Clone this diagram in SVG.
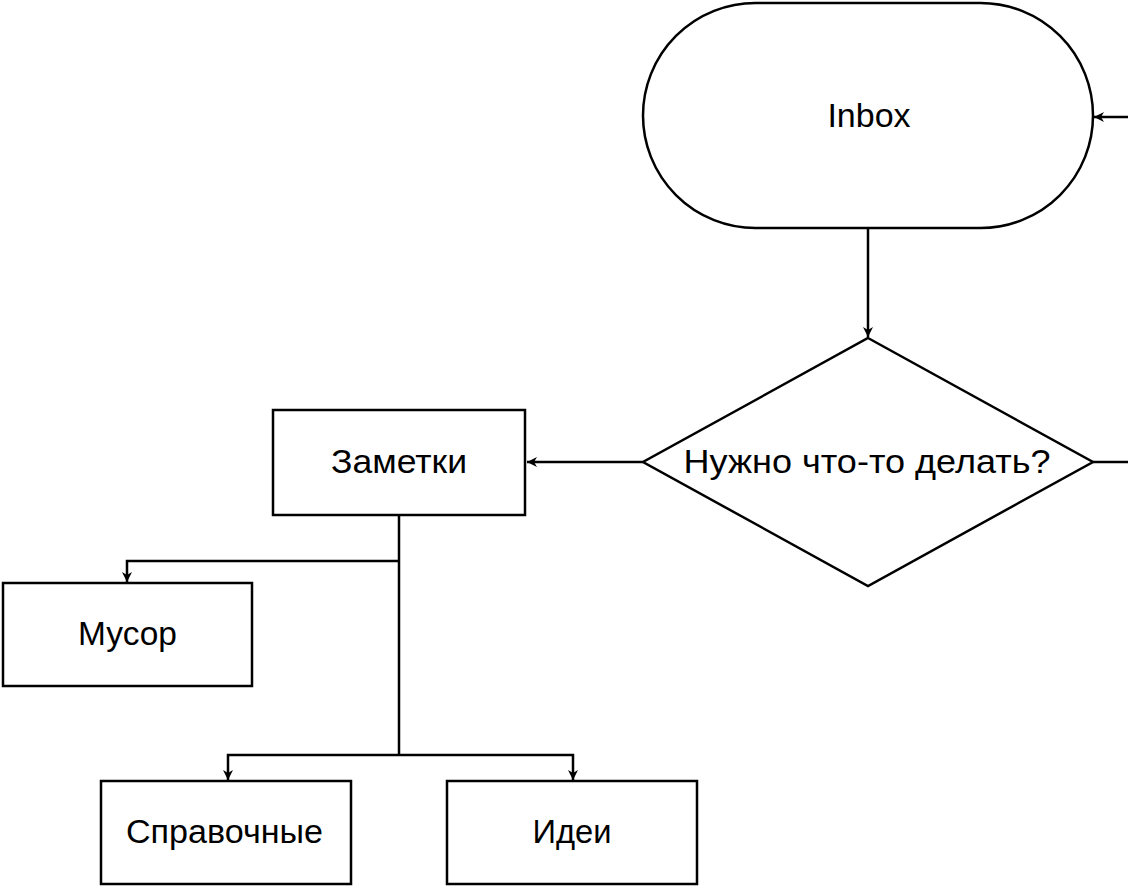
<svg xmlns="http://www.w3.org/2000/svg" width="1128" height="886" viewBox="0 0 1128 886">
<defs>
<style>
.s{fill:#fff;stroke:#000;stroke-width:2.5}
.t{font-family:"Liberation Sans",Arial,sans-serif;font-size:34px;fill:#000;text-anchor:middle;dominant-baseline:central}
.c{fill:none;stroke:#000;stroke-width:2.5}
</style>
<marker id="a" viewBox="0 0 10 10" refX="10" refY="5" markerWidth="4" markerHeight="4" orient="auto" markerUnits="strokeWidth">
<path d="M0,0 L10,5 L0,10 L3,5 Z" fill="#000"/>
</marker>
</defs>
<rect width="1128" height="886" fill="#fff"/>
<g id="connectors">
<path class="c" d="M1128,117 L1094,117" marker-end="url(#a)"/>
<path class="c" d="M868,228 L868,337" marker-end="url(#a)"/>
<path class="c" d="M643,462 L527,462" marker-end="url(#a)"/>
<path class="c" d="M1093,462 L1128,462"/>
<path class="c" d="M399,515 L399,755"/>
<path class="c" d="M399,561 L127,561 L127,582" marker-end="url(#a)"/>
<path class="c" d="M399,755 L228,755 L228,780" marker-end="url(#a)"/>
<path class="c" d="M399,755 L573,755 L573,780" marker-end="url(#a)"/>
</g>
<g id="inbox">
<rect class="s" x="643" y="3" width="450" height="225" rx="112.5" ry="112.5"/>
<text class="t" x="869" y="115">Inbox</text>
</g>
<g id="decision">
<polygon class="s" points="868,338 1093,462 868,586 643,462"/>
<text class="t" x="867" y="461" textLength="367" lengthAdjust="spacingAndGlyphs">Нужно что-то делать?</text>
</g>
<g id="notes">
<rect class="s" x="273" y="410" width="252" height="105"/>
<text class="t" x="399" y="461" textLength="136" lengthAdjust="spacingAndGlyphs">Заметки</text>
</g>
<g id="trash">
<rect class="s" x="3" y="583" width="249" height="103"/>
<text class="t" x="127.5" y="633" textLength="99" lengthAdjust="spacingAndGlyphs">Мусор</text>
</g>
<g id="reference">
<rect class="s" x="101" y="781" width="250" height="103"/>
<text class="t" x="224.5" y="831" textLength="197" lengthAdjust="spacingAndGlyphs">Справочные</text>
</g>
<g id="ideas">
<rect class="s" x="447" y="781" width="250" height="103"/>
<text class="t" x="572" y="831" textLength="79" lengthAdjust="spacingAndGlyphs">Идеи</text>
</g>
</svg>
